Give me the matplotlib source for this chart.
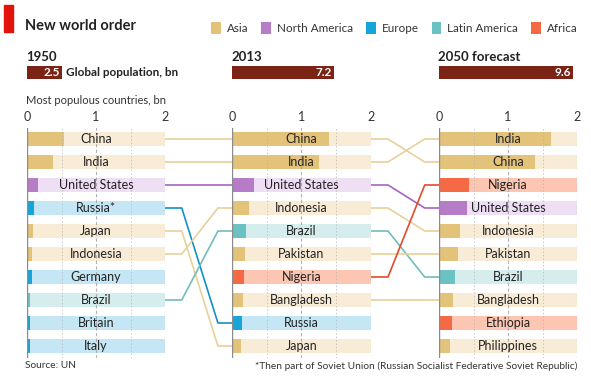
import numpy as np
import matplotlib
matplotlib.use('Agg')
import matplotlib.pyplot as plt
from matplotlib.patches import Patch, Rectangle
from matplotlib.lines import Line2D

plt.rcParams['font.family'] = ['Lato', 'DejaVu Sans']

# data
years = ['1950', '2013', '2050 forecast']
global_pop = [2.5, 7.2, 9.6]

countries_1950 = ['China', 'India', 'United States', 'Russia*', 'Japan',
                  'Indonesia', 'Germany', 'Brazil', 'Britain', 'Italy']
pop_1950 = [0.54, 0.37, 0.16, 0.10, 0.08, 0.07, 0.07, 0.05, 0.05, 0.05]
region_1950 = ['Asia', 'Asia', 'North America', 'Europe', 'Asia',
               'Asia', 'Europe', 'Latin America', 'Europe', 'Europe']

countries_2013 = ['China', 'India', 'United States', 'Indonesia', 'Brazil',
                  'Pakistan', 'Nigeria', 'Bangladesh', 'Russia', 'Japan']
pop_2013 = [1.39, 1.25, 0.32, 0.25, 0.20, 0.18, 0.17, 0.16, 0.14, 0.13]
region_2013 = ['Asia', 'Asia', 'North America', 'Asia', 'Latin America',
               'Asia', 'Africa', 'Asia', 'Europe', 'Asia']

countries_2050 = ['India', 'China', 'Nigeria', 'United States', 'Indonesia',
                  'Pakistan', 'Brazil', 'Bangladesh', 'Ethiopia', 'Philippines']
pop_2050 = [1.62, 1.39, 0.44, 0.40, 0.30, 0.27, 0.23, 0.20, 0.19, 0.16]
region_2050 = ['Asia', 'Asia', 'Africa', 'North America', 'Asia',
               'Asia', 'Latin America', 'Asia', 'Africa', 'Asia']

regions = ['Asia', 'North America', 'Europe', 'Latin America', 'Africa']
dark = {'Asia': '#e3c27a', 'North America': '#b77cc8', 'Europe': '#16a5db',
        'Latin America': '#6cc2c2', 'Africa': '#f56a45'}
light = {'Asia': '#f9ecd6', 'North America': '#efdff4', 'Europe': '#c5e7f5',
         'Latin America': '#d5eded', 'Africa': '#fdc6b2'}
line_col = {'Asia': '#e8d09a', 'North America': '#a864bd', 'Europe': '#1390c4',
            'Latin America': '#72bcbc', 'Africa': '#e34a2c'}

countries = [countries_1950, countries_2013, countries_2050]
pops = [pop_1950, pop_2013, pop_2050]
regs = [region_1950, region_2013, region_2050]

W, H = 591, 378
fig = plt.figure(figsize=(W / 100, H / 100), dpi=100)
fig.patch.set_facecolor('white')


def px_axes(x0, y0, x1, y1):
    return fig.add_axes([x0 / W, 1 - y1 / H, (x1 - x0) / W, (y1 - y0) / H])


panel_x = [(27, 165), (232, 371), (439, 577)]
txt = '#222222'

axes = []
for k in range(3):
    x0, x1 = panel_x[k]
    ax = px_axes(x0, 127.5, x1, 357.5)
    n = len(countries[k])
    rows = np.arange(n)
    ax.barh(rows, [2] * n, height=0.64, color=[light[r] for r in regs[k]], zorder=1)
    ax.barh(rows, pops[k], height=0.64, color=[dark[r] for r in regs[k]], zorder=2)
    for i, name in enumerate(countries[k]):
        ax.text(1, i, name, ha='center', va='center', fontsize=9, color=txt, zorder=5)
    for g in [0.5, 1.5]:
        ax.axvline(g, color='#b5b5b5', lw=0.7, ls=(0, (1.5, 2)), zorder=3, alpha=0.7)
    for g in [1, 2]:
        ax.axvline(g, color='#a0a0a0', lw=0.8, ls=(0, (3, 2)), zorder=3, alpha=0.8)
    ax.axvline(0, color='#8c8c8c', lw=1.0, zorder=4)
    ax.set_xlim(0, 2)
    ax.set_ylim(n - 0.5, -0.5)
    ax.xaxis.tick_top()
    ax.set_xticks([0, 1, 2])
    ax.set_xticklabels(['0', '1', '2'])
    ax.tick_params(axis='x', length=0, pad=3, labelsize=9, labelcolor='#333333')
    ax.set_yticks([])
    for s in ax.spines.values():
        s.set_visible(False)
    ax.patch.set_alpha(0)
    axes.append(ax)

    # global population header bar
    hx = px_axes(x0, 64, x1, 81)
    hx.barh([0], [global_pop[k]], height=0.78, color='#7b2314')
    hx.text(global_pop[k] - 0.15, 0, f'{global_pop[k]:.1f}', ha='right', va='center',
            fontsize=8.5, fontweight='bold', color='white')
    if k == 0:
        hx.text(global_pop[k] + 0.3, 0, 'Global population, bn', ha='left', va='center',
                fontsize=8.5, fontweight='bold', color=txt)
    hx.set_xlim(0, 9.86)
    hx.set_ylim(-0.5, 0.5)
    hx.axis('off')

    fig.text((x0 - 1) / W, 1 - 57 / H, years[k], ha='left', va='center',
             fontsize=9.5, fontweight='bold', color=txt)

# connecting lines between panels
inv = fig.transFigure.inverted()
for a, b in [(0, 1), (1, 2)]:
    names_b = [c.rstrip('*') for c in countries[b]]
    for i, name in enumerate(countries[a]):
        key = name.rstrip('*')
        if key not in names_b:
            continue
        j = names_b.index(key)
        xa, ya = axes[a].transData.transform((2, i))
        xb, yb = axes[b].transData.transform((0, j))
        gap = xb - xa
        xs = [xa, xa + 0.25 * gap, xb - 0.21 * gap, xb]
        ys = [ya, ya, yb, yb]
        pts = inv.transform(np.column_stack([xs, ys]))
        fig.add_artist(Line2D(pts[:, 0], pts[:, 1], color=line_col[regs[a][i]],
                              lw=1.2, solid_capstyle='butt'))

# title and red tag
fig.add_artist(Rectangle((4 / W, 1 - 32 / H), 9 / W, 27 / H, color='#e3120b',
                         transform=fig.transFigure))
fig.text(25 / W, 1 - 26 / H, 'New world order', ha='left', va='center',
         fontsize=10.5, fontweight='bold', color=txt)

handles = [Patch(facecolor=dark[r], edgecolor='none') for r in regions]
fig.legend(handles, regions, loc='center left', bbox_to_anchor=(211 / W, 1 - 28 / H),
           ncol=5, frameon=False, handlelength=0.85, handleheight=1.3,
           handletextpad=0.5, columnspacing=1.1, fontsize=8.4,
           borderaxespad=0, borderpad=0, labelcolor='#333333')

fig.text(26 / W, 1 - 100 / H, 'Most populous countries, bn', ha='left', va='center',
         fontsize=8, color='#333333')
fig.text(25 / W, 1 - 366 / H, 'Source: UN', ha='left', va='center',
         fontsize=7.3, color='#333333')
fig.text(577 / W, 1 - 366 / H,
         '*Then part of Soviet Union (Russian Socialist Federative Soviet Republic)',
         ha='right', va='center', fontsize=7.3, color='#333333')

fig.savefig('out.png', dpi=100)
